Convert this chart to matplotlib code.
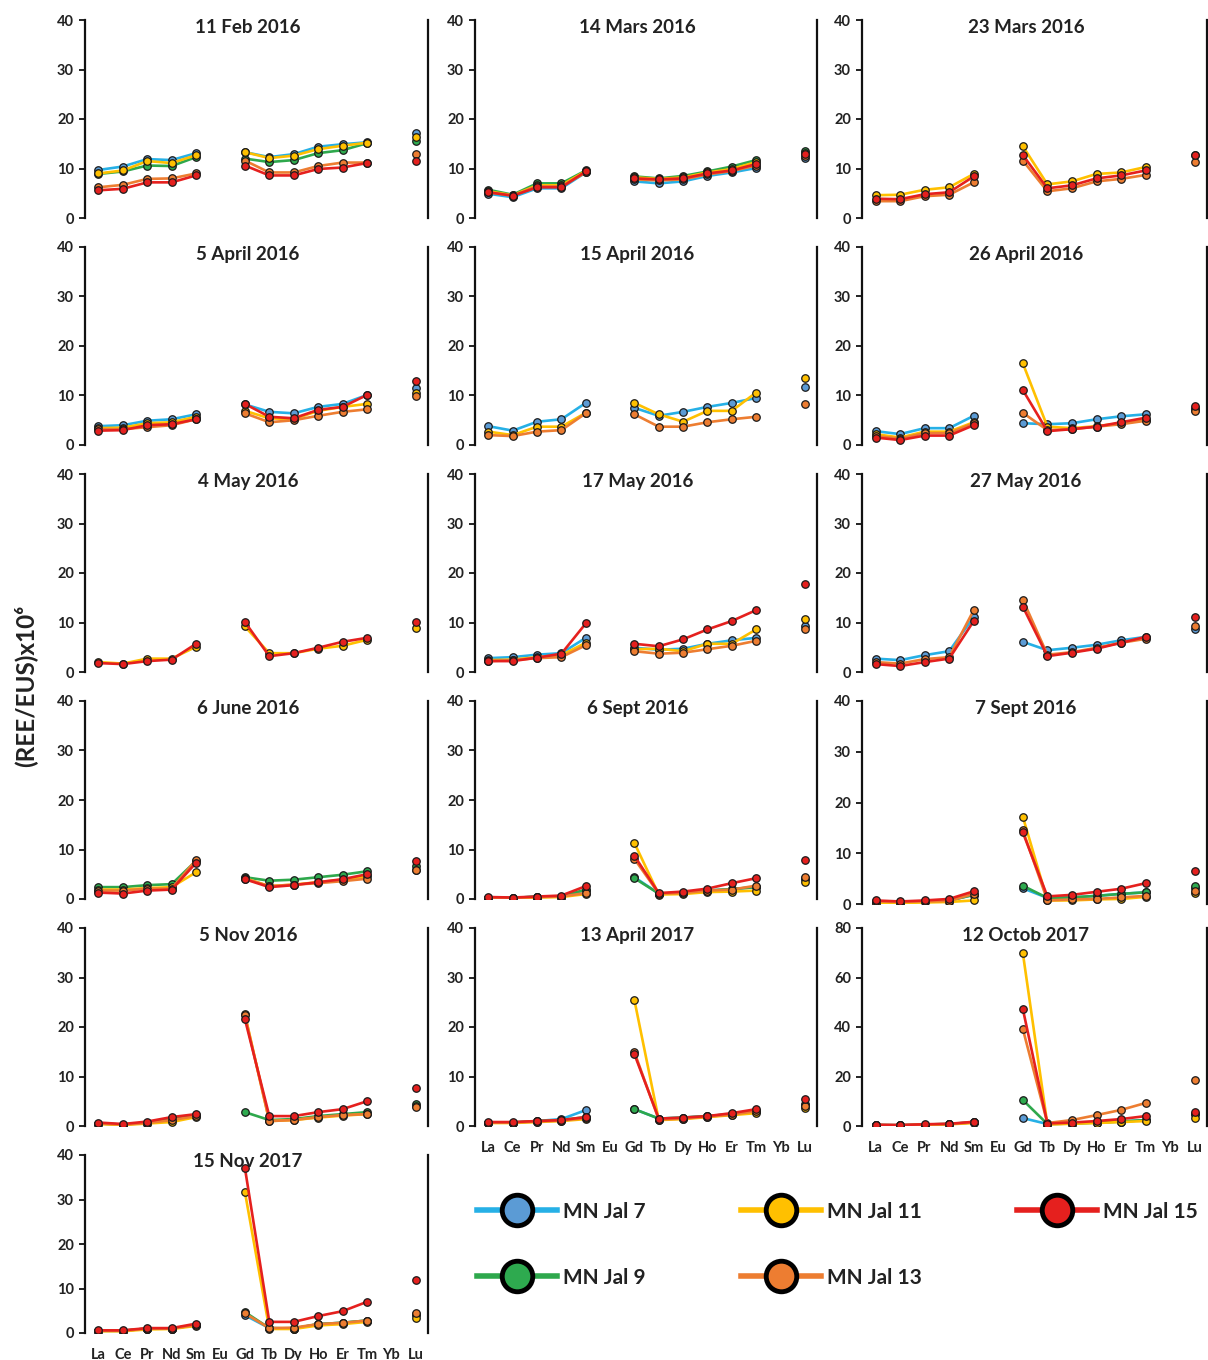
import numpy as np
import matplotlib
matplotlib.use("Agg")
import matplotlib.pyplot as plt
from matplotlib.lines import Line2D

FONT = ["Lato", "DejaVu Sans"]
plt.rcParams["font.family"] = FONT
plt.rcParams["font.weight"] = "bold"

# ---------------- data ----------------
elements = ["La", "Ce", "Pr", "Nd", "Sm", "Eu", "Gd", "Tb", "Dy", "Ho", "Er", "Tm", "Yb", "Lu"]
measured = ["La", "Ce", "Pr", "Nd", "Sm", "Gd", "Tb", "Dy", "Ho", "Er", "Tm", "Lu"]
series_names = ["MN Jal 7", "MN Jal 9", "MN Jal 11", "MN Jal 13", "MN Jal 15"]
line_colors = ["#26B0E6", "#2EA84C", "#FFC000", "#ED7D31", "#E5201E"]
face_colors = ["#5B9BD5", "#2EAA4F", "#FFC000", "#ED7D31", "#E5201E"]

# values for La Ce Pr Nd Sm Gd Tb Dy Ho Er Tm Lu
feb11_2016 = {
    "MN Jal 7":  [9.7, 10.4, 11.9, 11.7, 13.1, 13.3, 12.3, 12.9, 14.4, 14.9, 15.3, 17.1],
    "MN Jal 9":  [8.9, 9.4, 10.6, 10.5, 12.3, 12.0, 11.3, 11.7, 13.1, 13.7, 15.1, 15.6],
    "MN Jal 11": [9.0, 9.6, 11.5, 11.1, 12.7, 13.3, 12.1, 12.6, 13.9, 14.6, 15.2, 16.3],
    "MN Jal 13": [6.2, 6.7, 7.9, 8.0, 9.0, 11.6, 9.2, 9.2, 10.5, 11.2, 11.2, 12.9],
    "MN Jal 15": [5.6, 5.9, 7.2, 7.2, 8.6, 10.6, 8.6, 8.6, 9.9, 10.2, 11.1, 11.6],
}
mar14_2016 = {
    "MN Jal 7":  [4.9, 4.2, 6.0, 6.0, 9.2, 7.4, 7.0, 7.4, 8.5, 9.2, 10.1, 12.1],
    "MN Jal 9":  [5.7, 4.7, 7.0, 7.0, 9.6, 8.4, 8.0, 8.5, 9.4, 10.4, 11.7, 13.6],
    "MN Jal 11": [5.4, 4.6, 6.6, 6.6, 9.5, 8.2, 7.9, 8.2, 9.2, 9.9, 11.3, 13.2],
    "MN Jal 13": [5.2, 4.5, 6.4, 6.4, 9.2, 7.8, 7.6, 7.8, 8.8, 9.5, 10.6, 12.5],
    "MN Jal 15": [5.2, 4.5, 6.2, 6.2, 9.4, 8.0, 7.8, 8.0, 9.0, 9.6, 10.9, 12.9],
}
mar23_2016 = {
    "MN Jal 11": [4.6, 4.7, 5.7, 6.2, 8.9, 14.5, 6.8, 7.4, 8.9, 9.2, 10.3, 12.7],
    "MN Jal 13": [3.4, 3.4, 4.4, 4.7, 7.2, 11.6, 5.4, 6.0, 7.4, 7.9, 8.7, 11.3],
    "MN Jal 15": [3.9, 3.8, 4.8, 5.2, 8.4, 12.7, 6.0, 6.6, 8.0, 8.6, 9.6, 12.7],
}
apr05_2016 = {
    "MN Jal 7":  [3.8, 4.0, 4.9, 5.2, 6.2, 8.2, 6.7, 6.4, 7.7, 8.3, 10.1, 11.6],
    "MN Jal 11": [3.4, 3.5, 4.4, 4.6, 5.7, 6.9, 5.4, 5.2, 6.9, 7.7, 8.3, 10.6],
    "MN Jal 13": [3.2, 3.2, 3.6, 4.0, 5.2, 6.4, 4.6, 5.0, 5.9, 6.7, 7.2, 9.9],
    "MN Jal 15": [2.9, 3.0, 4.0, 4.2, 5.2, 8.3, 5.7, 5.4, 7.1, 7.7, 10.1, 13.0],
}
apr15_2016 = {
    "MN Jal 7":  [3.8, 2.9, 4.7, 5.2, 8.5, 7.5, 5.9, 6.7, 7.7, 8.5, 9.5, 11.8],
    "MN Jal 11": [2.7, 2.0, 3.7, 3.7, 6.5, 8.5, 6.2, 4.7, 6.9, 6.9, 10.6, 13.6],
    "MN Jal 13": [2.0, 1.8, 2.7, 3.0, 6.4, 6.2, 3.7, 3.7, 4.6, 5.2, 5.7, 8.3],
}
apr26_2016 = {
    "MN Jal 7":  [2.8, 2.2, 3.4, 3.4, 5.9, 4.4, 4.2, 4.4, 5.2, 5.8, 6.2, 7.4],
    "MN Jal 11": [2.2, 1.5, 2.7, 2.7, 4.6, 16.5, 3.7, 3.4, 3.8, 4.4, 5.0, 7.1],
    "MN Jal 13": [1.8, 1.3, 2.4, 2.4, 4.4, 6.5, 3.0, 3.2, 3.7, 4.2, 4.9, 6.9],
    "MN Jal 15": [1.5, 1.0, 1.9, 1.9, 4.0, 11.1, 2.8, 3.2, 3.7, 4.6, 5.5, 7.9],
}
may04_2016 = {
    "MN Jal 11": [2.0, 1.7, 2.7, 2.7, 5.1, 9.2, 3.8, 3.8, 4.7, 5.3, 6.5, 8.8],
    "MN Jal 15": [1.8, 1.6, 2.2, 2.5, 5.7, 10.1, 3.2, 3.8, 4.9, 6.1, 6.9, 10.1],
}
may17_2016 = {
    "MN Jal 7":  [2.8, 3.0, 3.5, 3.8, 6.9, 4.9, 4.5, 4.7, 5.7, 6.4, 6.9, 9.3],
    "MN Jal 11": [2.4, 2.5, 3.0, 3.4, 5.9, 4.6, 4.7, 4.2, 5.7, 5.7, 8.6, 10.8],
    "MN Jal 13": [2.2, 2.4, 2.8, 3.0, 5.4, 4.2, 3.7, 3.9, 4.6, 5.3, 6.3, 8.6],
    "MN Jal 15": [2.2, 2.2, 2.9, 3.7, 9.8, 5.7, 5.2, 6.6, 8.6, 10.3, 12.5, 17.7],
}
may27_2016 = {
    "MN Jal 7":  [2.7, 2.4, 3.4, 4.2, 11.1, 6.1, 4.4, 4.9, 5.5, 6.4, 7.1, 8.6],
    "MN Jal 13": [2.0, 1.7, 2.6, 3.0, 12.5, 14.6, 3.5, 4.0, 4.9, 5.9, 6.7, 9.2],
    "MN Jal 15": [1.6, 1.2, 2.0, 2.7, 10.3, 13.2, 3.2, 3.9, 4.7, 5.9, 7.1, 11.1],
}
jun06_2016 = {
    "MN Jal 9":  [2.4, 2.4, 2.8, 3.0, 7.7, 4.4, 3.7, 3.9, 4.4, 4.9, 5.6, 6.7],
    "MN Jal 11": [1.9, 1.9, 2.2, 2.4, 5.4, 4.2, 2.6, 2.9, 3.4, 3.9, 4.6, 5.9],
    "MN Jal 13": [1.7, 1.7, 2.1, 2.1, 7.9, 4.1, 2.6, 2.9, 3.2, 3.6, 4.1, 5.8],
    "MN Jal 15": [1.3, 1.1, 1.7, 1.9, 7.3, 4.0, 2.4, 2.8, 3.4, 4.0, 5.0, 7.6],
}
sep06_2016 = {
    "MN Jal 7":  [0.3, 0.2, 0.5, 0.5, 1.8, 4.4, 1.1, 1.2, 1.7, 2.0, 2.4, 4.1],
    "MN Jal 9":  [0.3, 0.2, 0.5, 0.5, 1.9, 4.2, 1.1, 1.2, 1.7, 2.0, 2.4, 4.2],
    "MN Jal 11": [0.2, 0.1, 0.3, 0.4, 1.0, 11.3, 0.9, 1.0, 1.4, 1.5, 1.7, 3.4],
    "MN Jal 13": [0.3, 0.2, 0.4, 0.5, 1.2, 8.1, 1.1, 1.2, 1.7, 1.9, 2.7, 4.4],
    "MN Jal 15": [0.4, 0.3, 0.5, 0.7, 2.6, 8.7, 1.2, 1.5, 2.1, 3.2, 4.2, 7.8],
}
sep07_2016 = {
    "MN Jal 7":  [0.4, 0.3, 0.5, 0.7, 1.8, 3.1, 1.2, 1.3, 1.6, 2.0, 2.3, 3.2],
    "MN Jal 9":  [0.4, 0.3, 0.5, 0.7, 1.8, 3.6, 1.2, 1.3, 1.6, 2.0, 2.3, 3.5],
    "MN Jal 11": [0.2, 0.2, 0.3, 0.4, 0.7, 17.2, 0.7, 0.7, 0.9, 1.0, 1.4, 2.2],
    "MN Jal 13": [0.5, 0.4, 0.5, 0.6, 2.0, 14.5, 0.7, 0.9, 1.0, 1.3, 1.6, 2.5],
    "MN Jal 15": [0.7, 0.5, 0.7, 1.0, 2.5, 14.1, 1.5, 1.8, 2.4, 3.0, 4.1, 6.6],
}
nov05_2016 = {
    "MN Jal 9":  [0.5, 0.3, 0.7, 1.5, 2.2, 2.8, 1.2, 1.4, 2.0, 2.4, 2.8, 4.4],
    "MN Jal 11": [0.4, 0.2, 0.5, 0.8, 1.8, 22.6, 1.0, 1.2, 1.7, 2.1, 2.4, 4.0],
    "MN Jal 13": [0.5, 0.3, 0.6, 1.2, 2.0, 22.4, 1.0, 1.2, 1.8, 2.2, 2.4, 3.8],
    "MN Jal 15": [0.7, 0.4, 0.9, 1.8, 2.4, 21.6, 2.0, 2.0, 2.8, 3.4, 5.0, 7.7],
}
apr13_2017 = {
    "MN Jal 7":  [0.7, 0.7, 1.0, 1.4, 3.2, 3.4, 1.5, 1.7, 2.0, 2.4, 3.1, 4.4],
    "MN Jal 9":  [0.7, 0.7, 1.0, 1.2, 1.8, 3.4, 1.5, 1.7, 2.0, 2.4, 3.1, 4.2],
    "MN Jal 11": [0.6, 0.6, 0.8, 1.0, 1.4, 25.4, 1.2, 1.4, 1.8, 2.2, 2.6, 3.6],
    "MN Jal 13": [0.7, 0.7, 0.9, 1.1, 1.6, 14.9, 1.3, 1.5, 1.9, 2.3, 3.0, 4.0],
    "MN Jal 15": [0.8, 0.8, 1.0, 1.2, 1.8, 14.5, 1.5, 1.7, 2.0, 2.6, 3.4, 5.5],
}
oct12_2017 = {
    "MN Jal 7":  [0.4, 0.3, 0.6, 0.8, 1.5, 3.2, 0.8, 1.0, 1.4, 1.8, 2.4, 4.8],
    "MN Jal 9":  [0.4, 0.3, 0.6, 0.8, 1.5, 10.5, 0.8, 1.0, 1.4, 1.8, 2.4, 4.8],
    "MN Jal 11": [0.3, 0.2, 0.5, 0.7, 1.2, 69.9, 0.6, 0.9, 1.2, 1.6, 2.0, 3.2],
    "MN Jal 13": [0.4, 0.3, 0.6, 0.8, 1.5, 39.2, 1.2, 2.4, 4.4, 6.5, 9.3, 18.6],
    "MN Jal 15": [0.5, 0.4, 0.7, 0.9, 1.7, 47.3, 1.0, 1.4, 2.0, 2.8, 4.0, 5.7],
}
nov15_2017 = {
    "MN Jal 7":  [0.5, 0.5, 1.0, 1.0, 1.8, 4.0, 1.1, 1.0, 2.0, 2.3, 2.8, 4.0],
    "MN Jal 9":  [0.5, 0.5, 1.0, 1.0, 1.8, 4.7, 1.1, 1.0, 2.0, 2.3, 2.8, 4.2],
    "MN Jal 11": [0.4, 0.4, 0.8, 0.9, 1.6, 31.7, 0.9, 0.9, 1.7, 2.0, 2.5, 3.4],
    "MN Jal 13": [0.5, 0.5, 1.0, 1.0, 1.8, 4.4, 1.1, 1.2, 2.0, 2.3, 2.8, 4.5],
    "MN Jal 15": [0.6, 0.6, 1.1, 1.1, 2.1, 37.1, 2.5, 2.5, 3.8, 4.9, 7.0, 11.9],
}

titles = ["11 Feb 2016", "14 Mars 2016", "23 Mars 2016",
          "5 April 2016", "15 April 2016", "26 April 2016",
          "4 May 2016", "17 May 2016", "27 May 2016",
          "6 June 2016", "6 Sept 2016", "7 Sept 2016",
          "5 Nov 2016", "13 April 2017", "12 Octob 2017",
          "15 Nov 2017"]
panels = [feb11_2016, mar14_2016, mar23_2016, apr05_2016, apr15_2016, apr26_2016,
          may04_2016, may17_2016, may27_2016, jun06_2016, sep06_2016, sep07_2016,
          nov05_2016, apr13_2017, oct12_2017, nov15_2017]
y_max = [40] * 14 + [80] + [40]
y_step = [10] * 14 + [20] + [10]
show_xlabels = [False] * 13 + [True, True, True]

# ---------------- layout (pixels) ----------------
W, H = 1208, 1360
col_left = [85, 475, 862]
col_width = [343, 342, 345]
row_top = [20, 247, 474, 701, 928, 1155]
panel_height = [198] * 11 + [203] + [198] * 3 + [178]

fig = plt.figure(figsize=(W / 100, H / 100), dpi=100)


def full(vals):
    d = dict(zip(measured, vals))
    return np.array([d.get(e, np.nan) for e in elements], dtype=float)


x = np.arange(len(elements))
for i, data in enumerate(panels):
    r, c = divmod(i, 3)
    left = col_left[c] / W
    top = row_top[r]
    h = panel_height[i]
    ax = fig.add_axes([left, 1 - (top + h) / H, col_width[c] / W, h / H])
    for k, name in enumerate(series_names):
        if name not in data:
            continue
        ax.plot(x, full(data[name]), color=line_colors[k], lw=1.9,
                marker="o", ms=5.4, mfc=face_colors[k], mec="#1a1a1a", mew=0.9,
                zorder=2 + k)
    ax.set_xlim(-0.55, 13.5)
    ax.set_ylim(0, y_max[i])
    ax.set_yticks(np.arange(0, y_max[i] + 1, y_step[i]))
    ax.spines["top"].set_visible(False)
    ax.spines["bottom"].set_visible(False)
    for s in ("left", "right"):
        ax.spines[s].set_linewidth(1.6)
        ax.spines[s].set_color("#111111")
    ax.tick_params(axis="y", which="both", left=True, right=False, direction="out",
                   length=4, width=1.4, pad=4, labelsize=10.5, colors="#222222")
    for lab in ax.get_yticklabels():
        lab.set_fontweight("bold")
    ax.set_xticks(x)
    if show_xlabels[i]:
        ax.set_xticklabels(elements, fontsize=10.5, fontweight="bold", color="#222222")
        ax.tick_params(axis="x", length=0, pad=11)
    else:
        ax.set_xticklabels([])
        ax.tick_params(axis="x", length=0)
    ax.text(0.475, 0.962, titles[i], transform=ax.transAxes, ha="center", va="center",
            fontsize=13.5, fontweight="bold", color="#222222")

fig.text(25 / W, 1 - 686 / H, "(REE/EUS)x10\u2076", rotation=90, ha="center", va="center",
         fontsize=17.5, fontweight="bold", color="#222222", family=FONT)

handles = [Line2D([0], [0], color=line_colors[k], lw=4, marker="o", ms=22,
                  mfc=face_colors[k], mec="black", mew=3.5) for k in range(5)]
leg = fig.legend(handles, series_names, ncol=3, loc="upper left",
                 bbox_to_anchor=(458 / W, 1 - 1183 / H), frameon=False,
                 handlelength=3.85, handletextpad=0.3, columnspacing=4.55,
                 labelspacing=2.2, prop={"family": FONT, "weight": "bold", "size": 15})
for t in leg.get_texts():
    t.set_color("#222222")

fig.savefig("out.png", dpi=100)
